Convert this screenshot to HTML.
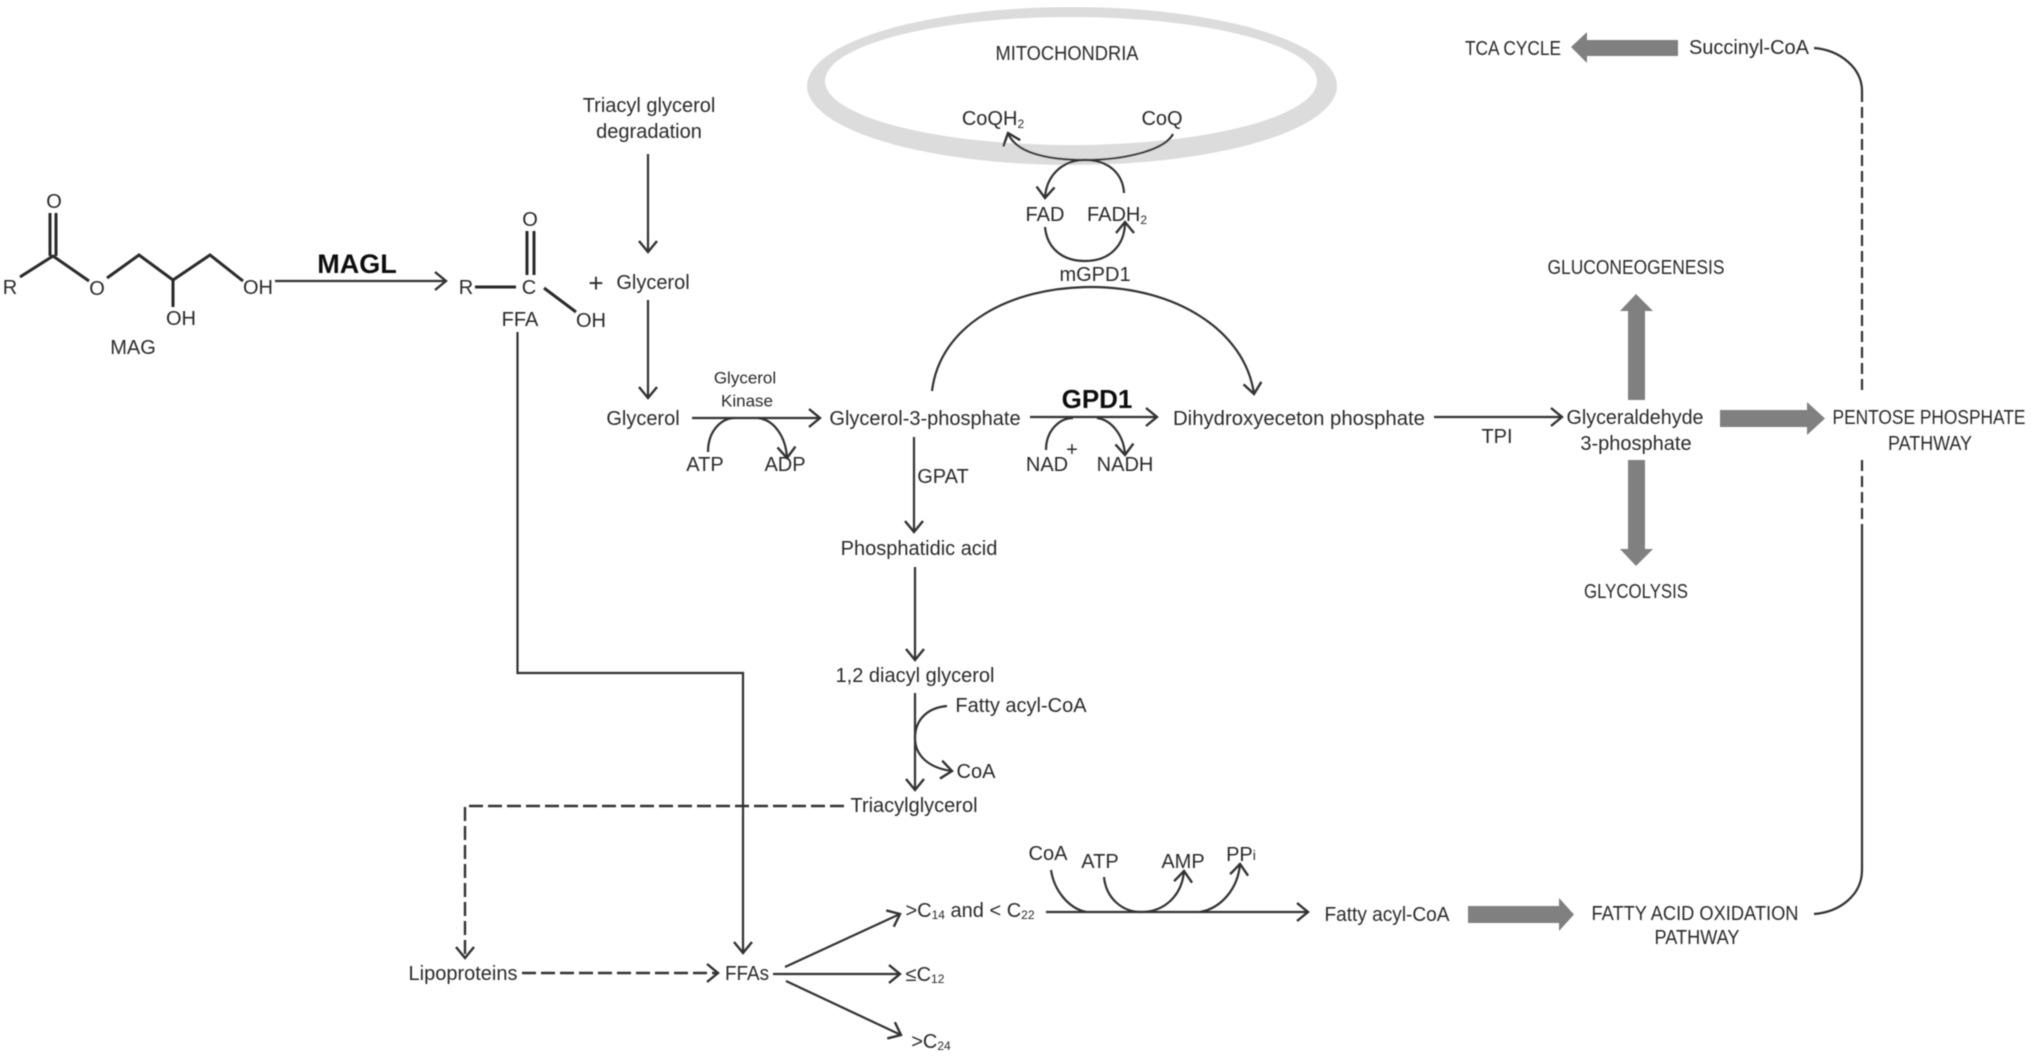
<!DOCTYPE html>
<html><head><meta charset="utf-8"><style>
html,body{margin:0;padding:0;background:#fff}
svg{display:block}
text{font-family:"Liberation Sans",sans-serif;font-size:20px;fill:#2a2a2a;text-anchor:middle;dominant-baseline:central;transform:translateY(1px)}
.b{font-weight:bold;fill:#111}
.l{fill:none;stroke:#333;stroke-width:2.2}
.t{fill:none;stroke:#2a2a2a;stroke-width:3}
.d{fill:none;stroke:#333;stroke-width:2.4;stroke-dasharray:14 5}
.d2{fill:none;stroke:#333;stroke-width:2.2;stroke-dasharray:11 5}
.g{fill:#808080}
</style></head><body>
<svg width="2031" height="1057" viewBox="0 0 2031 1057" xmlns="http://www.w3.org/2000/svg">
<defs>
<marker id="a" markerUnits="userSpaceOnUse" markerWidth="30" markerHeight="30" refX="20" refY="15" orient="auto"><path d="M9,6 L20,15 L9,24" fill="none" stroke="#333" stroke-width="2.4"/></marker>
<filter id="f" x="0" y="0" width="100%" height="100%"><feGaussianBlur stdDeviation="0.55"/></filter>
</defs>
<rect width="2031" height="1057" fill="#fff"/>
<g filter="url(#f)">
<path fill="#dcdcdc" fill-rule="evenodd" d="M807,86 A265,79 0 1 1 1337,86 A265,79 0 1 1 807,86 Z M825,81 A246,64 0 1 0 1317,81 A246,64 0 1 0 825,81 Z"/>

<!-- MAG -->
<path class="t" d="M20,277 L53,256 L89,281 M107,278 L139,255 L173,280 L210,255 L243,281 M173,280 V307 M50,256 V213 M56,256 V213"/>
<text x="54" y="201">O</text><text x="10" y="287">R</text><text x="97" y="288">O</text>
<text x="181" y="318">OH</text><text x="258" y="287">OH</text><text x="133" y="347">MAG</text>
<line class="l" x1="275" y1="281" x2="446" y2="281" marker-end="url(#a)"/>
<text class="b" x="357" y="263" style="font-size:27px">MAGL</text>

<!-- FFA -->
<path class="t" d="M475,287 H516 M527,231 V275 M534,231 V275 M544,288 L576,312"/>
<text x="466" y="287">R</text><text x="529" y="287">C</text><text x="530" y="219">O</text>
<text x="591" y="320">OH</text><text x="520" y="319">FFA</text>
<text x="596" y="282" style="font-size:26px">+</text>
<text x="653" y="282">Glycerol</text>
<text x="649" y="105">Triacyl glycerol</text><text x="649" y="131">degradation</text>
<line class="l" x1="648" y1="154" x2="648" y2="252" marker-end="url(#a)"/>
<line class="l" x1="648" y1="300" x2="648" y2="398" marker-end="url(#a)"/>
<text x="643" y="418">Glycerol</text>

<!-- Glycerol kinase -->
<text x="745" y="377" style="font-size:17px">Glycerol</text><text x="747" y="400" style="font-size:17px">Kinase</text>
<line class="l" x1="692" y1="418" x2="820" y2="418" marker-end="url(#a)"/>
<path class="l" d="M708,452 C708,430 722,418 735,418 M758,418 C775,420 786,438 787,458" marker-end="url(#a)"/>
<text x="705" y="464">ATP</text><text x="785" y="464">ADP</text>
<text x="925" y="418">Glycerol-3-phosphate</text>

<!-- GPD1 -->
<text class="b" x="1097" y="398" style="font-size:26px">GPD1</text>
<line class="l" x1="1030" y1="417" x2="1157" y2="417" marker-end="url(#a)"/>
<path class="l" d="M1046,450 C1046,430 1060,418 1073,418 M1097,418 C1112,420 1124,436 1125,455" marker-end="url(#a)"/>
<text x="1047" y="464">NAD</text><text x="1072" y="449">+</text><text x="1125" y="464">NADH</text>
<text x="1299" y="418" textLength="252" lengthAdjust="spacingAndGlyphs">Dihydroxyeceton phosphate</text>

<!-- mGPD1 arc -->
<path class="l" d="M932,391 C940,325 1010,287 1091,287 C1175,287 1245,330 1254,394" marker-end="url(#a)"/>
<text x="1095" y="274">mGPD1</text>
<text x="1067" y="53" textLength="143" lengthAdjust="spacingAndGlyphs">MITOCHONDRIA</text>
<text x="993" y="118">CoQH<tspan dy="5" style="font-size:12px">2</tspan></text>
<text x="1162" y="118">CoQ</text>
<path class="l" d="M1173,134 C1165,150 1125,160 1085,160 C1045,160 1015,152 1008,133" marker-end="url(#a)"/>
<path class="l" d="M1124,193 C1123,175 1110,160 1085,160 C1060,160 1046,178 1045,198" marker-end="url(#a)"/>
<text x="1045" y="214">FAD</text>
<text x="1117" y="214">FADH<tspan dy="5" style="font-size:12px">2</tspan></text>
<path class="l" d="M1045,227 C1047,248 1062,261 1085,261 C1110,261 1125,245 1125,222" marker-end="url(#a)"/>

<!-- GPAT chain -->
<line class="l" x1="914" y1="437" x2="914" y2="532" marker-end="url(#a)"/>
<text x="943" y="476">GPAT</text>
<text x="919" y="548">Phosphatidic acid</text>
<line class="l" x1="915" y1="567" x2="915" y2="660" marker-end="url(#a)"/>
<text x="915" y="675">1,2 diacyl glycerol</text>
<line class="l" x1="915" y1="693" x2="915" y2="790" marker-end="url(#a)"/>
<path class="l" d="M947,706 C925,708 915,722 915,738 C915,755 928,768 952,771" marker-end="url(#a)"/>
<text x="1021" y="705">Fatty acyl-CoA</text>
<text x="976" y="771">CoA</text>
<text x="914" y="805">Triacylglycerol</text>

<!-- FFA line -->
<path class="l" d="M517.5,332 V673 H743 V953" marker-end="url(#a)"/>
<path class="d" d="M844,806 H465 V958" marker-end="url(#a)"/>
<text x="463" y="973">Lipoproteins</text>
<line class="d" x1="522" y1="973" x2="718" y2="973" marker-end="url(#a)"/>
<text x="747" y="973" textLength="44" lengthAdjust="spacingAndGlyphs">FFAs</text>
<line class="l" x1="785" y1="967" x2="900" y2="914" marker-end="url(#a)"/>
<line class="l" x1="773" y1="974" x2="900" y2="974" marker-end="url(#a)"/>
<line class="l" x1="786" y1="981" x2="901" y2="1035" marker-end="url(#a)"/>
<text x="970" y="910">&gt;C<tspan dy="4" style="font-size:12px">14</tspan><tspan dy="-4"> and &lt; C</tspan><tspan dy="4" style="font-size:12px">22</tspan></text>
<text x="925" y="974">≤C<tspan dy="4" style="font-size:12px">12</tspan></text>
<text x="931" y="1041">&gt;C<tspan dy="4" style="font-size:12px">24</tspan></text>

<!-- Fatty acyl -->
<line class="l" x1="1046" y1="912" x2="1308" y2="912" marker-end="url(#a)"/>
<path class="l" d="M1051,870 C1054,890 1068,908 1086,912"/>
<path class="l" d="M1104,877 C1106,898 1122,912 1141,912 C1165,912 1182,895 1184,871" marker-end="url(#a)"/>
<path class="l" d="M1200,912 C1222,908 1238,888 1240,864" marker-end="url(#a)"/>
<text x="1048" y="853">CoA</text><text x="1100" y="861">ATP</text><text x="1183" y="861">AMP</text><text x="1241" y="854">PP<tspan style="font-size:14px">i</tspan></text>
<text x="1387" y="914" textLength="125" lengthAdjust="spacingAndGlyphs">Fatty acyl-CoA</text>
<path class="g" d="M1468,906 H1559 V898 L1574,914.5 L1559,931 V923 H1468 Z"/>
<text x="1695" y="913" textLength="207" lengthAdjust="spacingAndGlyphs">FATTY ACID OXIDATION</text>
<text x="1697" y="937" textLength="85" lengthAdjust="spacingAndGlyphs">PATHWAY</text>

<!-- right side -->
<line class="l" x1="1434" y1="417" x2="1562" y2="417" marker-end="url(#a)"/>
<text x="1497" y="436">TPI</text>
<text x="1635" y="417" textLength="137" lengthAdjust="spacingAndGlyphs">Glyceraldehyde</text><text x="1636" y="443">3-phosphate</text>
<text x="1636" y="267" textLength="177" lengthAdjust="spacingAndGlyphs">GLUCONEOGENESIS</text>
<text x="1636" y="591" textLength="104" lengthAdjust="spacingAndGlyphs">GLYCOLYSIS</text>
<path class="g" d="M1636,294 L1653,311 H1645 V400 H1628 V311 H1620 Z"/>
<path class="g" d="M1628,460 H1645 V549 H1653 L1636,566 L1620,549 H1628 Z"/>
<path class="g" d="M1720,410 H1807 V402 L1825,418.5 L1807,435 V427 H1720 Z"/>
<text x="1929" y="417" textLength="193" lengthAdjust="spacingAndGlyphs">PENTOSE PHOSPHATE</text>
<text x="1930" y="443" textLength="84" lengthAdjust="spacingAndGlyphs">PATHWAY</text>
<text x="1513" y="48" textLength="96" lengthAdjust="spacingAndGlyphs">TCA CYCLE</text>
<path class="g" d="M1571,47 L1587,32 V40 H1678 V56 H1587 V63 Z"/>
<text x="1749" y="47">Succinyl-CoA</text>
<path class="l" d="M1814,48 C1840,50 1862,68 1862,91"/>
<path class="d2" d="M1862,91 V395 M1862,460 V526"/>
<path class="l" d="M1862,526 V870 C1862,895 1840,912 1814,914"/>
</g>
</svg>
</body></html>
